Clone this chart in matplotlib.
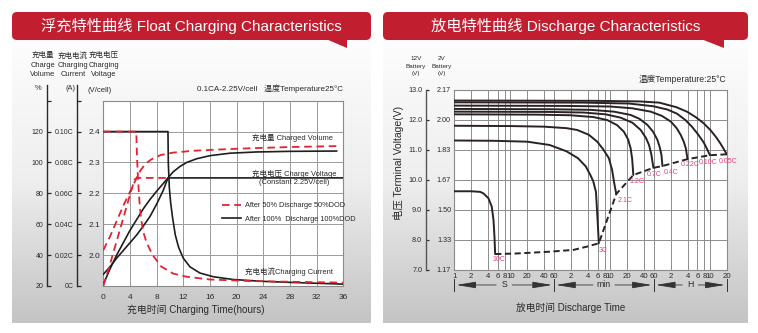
import numpy as np
import matplotlib
matplotlib.use("Agg")
import matplotlib.pyplot as plt
from matplotlib.patches import FancyBboxPatch, Polygon
from matplotlib.colors import LinearSegmentedColormap
from matplotlib.ticker import NullLocator

# ---------------------------------------------------------------- data
# Float charging, time axis (hours) and the three scales of the left chart
charge_hour_ticks = [0, 4, 8, 12, 16, 20, 24, 28, 32, 36]
cell_volt_ticks = [2.0, 2.1, 2.2, 2.3, 2.4]
volume_ticks = [20, 40, 60, 80, 100, 120, 140]
volume_labels = ["20", "40", "60", "80", "100", "120", ""]
current_ticks = [0.0, 0.02, 0.04, 0.06, 0.08, 0.10, 0.12]
current_labels = ["0C", "0.02C", "0.04C", "0.06C", "0.08C", "0.10C", ""]

# after 100% discharge (solid black)
cur100_h = [0, 9.7, 9.75, 9.9, 10.1, 10.4, 10.8, 11.3, 12.0, 13.0, 14.5, 16.5, 19.5, 24, 29, 36]
cur100_c = [0.10, 0.10, 0.080, 0.064, 0.054, 0.044, 0.033, 0.025, 0.018, 0.0124,
            0.0084, 0.006, 0.0042, 0.003, 0.0022, 0.0012]
vol100_h = [0, 1, 2, 3, 4, 5, 6, 7, 8, 9, 9.7, 10.5, 11.5, 12.5, 14, 16, 19, 23, 28, 35]
vol100_pct = [21, 31, 40, 48, 56, 63, 70, 76, 81.4, 86.4, 90, 94, 97.4, 100, 102.4,
              104.4, 106, 106.8, 107.2, 107.4]
volt100_h = [0, 1, 2, 3, 4, 5, 6, 7, 8, 9, 9.7, 36]
volt100_v = [1.938, 1.962, 1.99, 2.015, 2.04, 2.065, 2.094, 2.125, 2.165, 2.21, 2.25, 2.25]

# after 50% discharge (dashed red)
cur50_h = [0, 4.95, 5.05, 5.2, 5.4, 5.65, 6.0, 6.5, 7.4, 8.7, 10.5, 12.5, 16, 22, 30, 36]
cur50_c = [0.10, 0.10, 0.084, 0.070, 0.056, 0.044, 0.035, 0.028, 0.020, 0.0126,
           0.008, 0.006, 0.0042, 0.0032, 0.0026, 0.0022]
vol50_h = [0, 1, 2, 3, 4, 5, 5.6, 6.3, 7.2, 8.6, 10.5, 13.6, 17.5, 22, 28, 35]
vol50_pct = [43.2, 52, 62, 72, 81, 90, 95, 99, 102, 104.8, 106.4, 107.6, 108.4, 109.2, 110, 110.6]
volt50_h = [0, 1, 2, 3, 4, 4.7, 5.1, 9.7]
volt50_v = [1.90, 1.97, 2.045, 2.12, 2.195, 2.245, 2.25, 2.25]

# Discharge: time in seconds, 12 V battery terminal voltage
time_ticks = [1, 2, 4, 6, 8, 10, 20, 40, 60, 120, 240, 360, 480, 600, 1200, 2400,
              3600, 7200, 14400, 21600, 28800, 36000, 72000]
time_labels = ["1", "2", "4", "6", "8", "10", "20", "40", "60", "2", "4", "6", "8",
               "10", "20", "40", "60", "2", "4", "6", "8", "10", "20"]
volt12_ticks = [7, 8, 9, 10, 11, 12, 13]
volt12_labels = ["7.0", "8.0", "9.0", "10.0", "11.0", "12.0", "13.0"]
volt2_labels = ["1.17", "1.33", "1.50", "1.67", "1.83", "2.00", "2.17"]
time_units = ["S", "min", "H"]
unit_bounds = [1, 60, 3600, 72000]

t_005C = [1, 300, 2000, 4500, 9000, 14000, 20000, 28000, 37000, 46000, 55000, 62000, 67000, 72000]
v_005C = [12.64, 12.63, 12.61, 12.57, 12.42, 12.27, 12.09, 11.88, 11.65, 11.43, 11.22, 11.06, 10.95, 10.85]
t_010C = [1, 200, 1300, 3500, 6300, 9350, 13000, 17000, 22000, 28000, 32500, 36000]
v_010C = [12.58, 12.57, 12.54, 12.45, 12.34, 12.20, 12.00, 11.78, 11.52, 11.24, 11.00, 10.82]
t_022C = [1, 100, 610, 1500, 3170, 5000, 7230, 9200, 10900, 12300, 13400, 14360]
v_022C = [12.47, 12.46, 12.44, 12.38, 12.27, 12.13, 11.94, 11.72, 11.49, 11.27, 11.05, 10.69]
t_04C = [1, 50, 268, 700, 1390, 2000, 2765, 3500, 4176, 4600, 4925, 5130]
v_04C = [12.36, 12.35, 12.33, 12.27, 12.16, 12.03, 11.83, 11.60, 11.33, 11.08, 10.83, 10.46]
t_07C = [1, 50, 203, 500, 921, 1500, 2100, 2600, 2958, 3250, 3540]
v_07C = [12.27, 12.26, 12.24, 12.18, 12.07, 11.90, 11.66, 11.40, 11.16, 10.85, 10.40]
t_12C = [1, 30, 117, 300, 532, 800, 1055, 1250, 1390, 1480, 1553]
v_12C = [12.18, 12.17, 12.15, 12.09, 11.99, 11.82, 11.60, 11.35, 11.05, 10.70, 10.16]
t_21C = [1, 10, 40, 100, 155, 250, 353, 450, 569, 650, 710, 771]
v_21C = [11.80, 11.79, 11.77, 11.72, 11.66, 11.50, 11.27, 11.02, 10.72, 10.33, 9.88, 9.53]
t_3C = [1, 5, 20, 50, 100, 160, 220, 268, 300, 335, 355, 377]
v_3C = [11.31, 11.30, 11.27, 11.16, 10.95, 10.72, 10.45, 10.15, 9.95, 9.60, 8.80, 7.89]
t_10C = [1, 2, 2.9, 3.3, 4.05, 4.65, 5.0, 5.2, 5.35]
v_10C = [9.62, 9.62, 9.60, 9.55, 9.39, 9.11, 8.66, 8.11, 7.53]

# final voltage reached at each discharge rate
cutoff_t = [5.35, 13, 51, 134, 234, 377, 771, 1553, 3540, 5130, 14360, 36000, 72000]
cutoff_v = [7.53, 7.55, 7.61, 7.67, 7.78, 7.89, 9.53, 10.16, 10.40, 10.46, 10.69, 10.82, 10.85]

rate_names = ["0.05C", "0.10C", "0.22C", "0.4C", "0.7C", "1.2C", "2.1C", "3C", "10C"]

# ---------------------------------------------------------------- style
W, H = 758, 333
RED = "#e3232f"
BANNER = "#c11f30"
PINK = "#e8407c"
INK = "#2a2a2a"
GRID = "#9a9a9a"
NARROW = ["Liberation Sans Narrow", "Liberation Sans", "Noto Sans CJK SC"]
REGULAR = ["Liberation Sans", "Noto Sans CJK SC"]
plt.rcParams["font.family"] = NARROW
plt.rcParams["text.color"] = INK


def fig_rect(x0, y0, x1, y1):
    """Figure-fraction rectangle from pixel edges (y measured from the top)."""
    return [x0 / W, 1 - y1 / H, (x1 - x0) / W, (y1 - y0) / H]


fig = plt.figure(figsize=(W / 100, H / 100), dpi=100)

# background layer: panels and title banners, in pixel units
bg = fig.add_axes([0, 0, 1, 1], zorder=0)
bg.set_axis_off()
ramp = np.linspace(0, 1, 256)[:, None]
panel_cmap = LinearSegmentedColormap.from_list("panel", ["#fdfdfd", "#eeeeee", "#c4c4c4"])
panels = [(12, 371), (383, 748)]
for x0, x1 in panels:
    bg.imshow(ramp, extent=(x0, x1, 323, 40), cmap=panel_cmap, aspect="auto",
              interpolation="bilinear", zorder=0)
bg.set_xlim(0, W)
bg.set_ylim(H, 0)

titles = ["浮充特性曲线 Float Charging Characteristics", "放电特性曲线 Discharge Characteristics"]
tails = [[(326, 39), (347, 39), (347, 48)], [(701, 39), (724, 39), (724, 48)]]
for (x0, x1), title, tail in zip(panels, titles, tails):
    bg.add_patch(FancyBboxPatch((x0, 12), x1 - x0, 28, boxstyle="round,pad=0,rounding_size=5",
                                fc=BANNER, ec="none", zorder=1))
    bg.add_patch(Polygon(tail, closed=True, fc=BANNER, ec="none", zorder=1))
    bg.text((x0 + x1) / 2, 26.5, title, color="white", fontsize=11,
            ha="center", va="center", zorder=2)

# ---------------------------------------------------------------- left chart
axL = fig.add_axes(fig_rect(103.3, 100.7, 343.3, 286), zorder=2)
axL.set_facecolor("white")
axL.set_xlim(0, 36)
axL.set_ylim(1.9, 2.5)
axL.set_xticks(charge_hour_ticks)
axL.set_xticklabels([str(h) for h in charge_hour_ticks])
axL.set_yticks(cell_volt_ticks)
axL.set_yticklabels([f"{v:.1f}" for v in cell_volt_ticks])
axL.tick_params(length=0, labelsize=6, colors=INK)
axL.tick_params(axis="x", pad=5.5)
axL.tick_params(axis="y", pad=2.2)
axL.grid(True, color=GRID, lw=0.7)
for s in axL.spines.values():
    s.set_color("#8a8a8a")
    s.set_linewidth(0.8)


def pct_to_v(p):
    return 1.9 + (np.asarray(p, dtype=float) - 20) / 200


def v_to_pct(v):
    return 20 + (np.asarray(v, dtype=float) - 1.9) * 200


def amp_to_v(c):
    return 1.9 + np.asarray(c, dtype=float) * 5


def v_to_amp(v):
    return (np.asarray(v, dtype=float) - 1.9) / 5


sec_specs = [
    (46.7, (v_to_pct, pct_to_v), volume_ticks, volume_labels, (20, 150)),
    (77.3, (v_to_amp, amp_to_v), current_ticks, current_labels, (0, 0.13)),
]
for x_px, funcs, ticks, labels, bounds in sec_specs:
    sec = axL.secondary_yaxis((x_px - 103.3) / 240, functions=funcs)
    sec.set_yticks(ticks)
    sec.set_yticklabels(labels)
    sec.tick_params(direction="in", length=3, width=0.9, pad=2.5, labelsize=5, colors=INK)
    sec.spines["right"].set_visible(False)
    sec.spines["left"].set_color(INK)
    sec.spines["left"].set_linewidth(1.0)
    sec.spines["left"].set_bounds(*bounds)

dash_red = dict(color=RED, lw=1.3, dashes=(4.2, 2.6), zorder=4)
solid_blk = dict(color="#1e1e1e", lw=1.2, zorder=3)
axL.plot(cur100_h, amp_to_v(cur100_c), **solid_blk)
axL.plot(vol100_h, pct_to_v(vol100_pct), **solid_blk)
line100, = axL.plot(volt100_h, volt100_v, **solid_blk)
axL.plot(cur50_h, amp_to_v(cur50_c), **dash_red)
axL.plot(vol50_h, pct_to_v(vol50_pct), **dash_red)
line50, = axL.plot(volt50_h, volt50_v, **dash_red)

axL.legend([line50, line100], ["After 50% Discharge 50%DOD", "After 100%  Discharge 100%DOD"],
           loc="center left", bbox_to_anchor=(0.493, 0.398), frameon=False, fontsize=5.3,
           handlelength=2.7, handletextpad=0.45, labelspacing=0.85, borderpad=0, borderaxespad=0)

curve_notes = [
    (28.4, 2.381, "充电量 Charged Volume"),
    (28.6, 2.264, "充电电压 Charge Voltage"),
    (28.6, 2.236, "(Constant 2.25V/cell)"),
    (27.9, 1.946, "充电电流Charging Current"),
]
for h, v, txt in curve_notes:
    axL.text(h, v, txt, fontsize=5.4, ha="center", va="center", color=INK, zorder=5)

# header texts around the left chart
head_cols = [(43, ["充电量", "Charge", "Volume"]), (73, ["充电电流", "Charging", "Current"]),
             (104, ["充电电压", "Charging", "Voltage"])]
for x, lines in head_cols:
    for y, txt in zip([55.5, 65.5, 75], lines):
        bg.text(x, y, txt, fontsize=5.4, ha="center", va="center", zorder=3)
bg.text(38, 89, "%", fontsize=5.4, ha="center", va="center", zorder=3)
bg.text(70, 89, "(A)", fontsize=5.4, ha="center", va="center", zorder=3)
bg.text(100, 91, "(V/cell)", fontsize=5.6, ha="center", va="center", zorder=3)
bg.text(343, 89, "0.1CA-2.25V/cell   温度Temperature25°C", fontsize=5.8,
        ha="right", va="center", zorder=3)
bg.text(195.6, 310, "充电时间 Charging Time(hours)", fontsize=7.1, ha="center",
        va="center", zorder=3)

# ---------------------------------------------------------------- right chart
axR = fig.add_axes(fig_rect(454.3, 89.7, 726.8, 270), zorder=2)
axR.set_facecolor("white")
axR.set_xscale("log")
axR.set_xlim(1, 72000)
axR.set_ylim(7, 13)
axR.set_xticks(time_ticks)
axR.set_xticklabels(time_labels)
axR.xaxis.set_minor_locator(NullLocator())
axR.set_yticks(volt12_ticks)
axR.set_yticklabels([])
axR.tick_params(length=0, labelsize=5.6, colors=INK)
axR.tick_params(axis="x", pad=2.5)
axR.grid(True, color="#8c8c8c", lw=0.7)
for s in axR.spines.values():
    s.set_color("#8a8a8a")
    s.set_linewidth(0.8)

sec2 = axR.secondary_yaxis(0, functions=(lambda v: v / 6, lambda v: v * 6))
sec2.set_yticks([v / 6 for v in volt12_ticks])
sec2.set_yticklabels(volt2_labels)
sec2.tick_params(length=0, pad=2.3, labelsize=5.2, colors=INK)
for s in sec2.spines.values():
    s.set_visible(False)

sec12 = axR.secondary_yaxis((425.7 - 454.3) / 272.5, functions=(lambda v: v, lambda v: v))
sec12.set_yticks(volt12_ticks)
sec12.set_yticklabels(volt12_labels)
sec12.tick_params(direction="in", length=2.5, width=0.9, pad=2.5, labelsize=5.2, colors=INK)
sec12.spines["right"].set_visible(False)
sec12.spines["left"].set_color("#555555")
sec12.spines["left"].set_linewidth(1.0)

curves = [(t_005C, v_005C), (t_010C, v_010C), (t_022C, v_022C), (t_04C, v_04C),
          (t_07C, v_07C), (t_12C, v_12C), (t_21C, v_21C), (t_3C, v_3C), (t_10C, v_10C)]
label_offsets = [(1.2, -7.4), (-2, -7), (2.3, -5.7), (8.3, -6.3), (0.3, -6.7),
                 (3.8, -6), (8.3, -6.7), (4.7, -7.7), (4, -5.5)]
for (t, v), name, off in zip(curves, rate_names, label_offsets):
    axR.plot(t, v, color="#2b2323", lw=1.4, solid_capstyle="round", zorder=3)
    axR.annotate(name, (t[-1], v[-1]), xytext=off, textcoords="offset pixels",
                 fontsize=5, color=PINK, ha="center", va="center", annotation_clip=False,
                 zorder=5)
axR.plot(cutoff_t, cutoff_v, color="#2b2323", lw=1.4, dashes=(3.2, 1.8), zorder=3)

# time-unit bands below the axis
band_y = -0.083
for a, b, unit in zip(unit_bounds[:-1], unit_bounds[1:], time_units):
    mid = np.sqrt(a * b)
    gap = 10 ** ((11 if unit == "min" else 8) / 55.9)
    axR.text(mid, band_y, unit, transform=axR.get_xaxis_transform(), fontsize=6.3,
             ha="center", va="center", color=INK)
    for end, start in [(a, mid / gap), (b, mid * gap)]:
        axR.annotate("", xy=(end, band_y), xycoords=axR.get_xaxis_transform(),
                     xytext=(start, band_y), textcoords=axR.get_xaxis_transform(),
                     arrowprops=dict(arrowstyle="-|>,head_length=1.2,head_width=0.2",
                                     lw=0.6, color="#333333", shrinkA=0, shrinkB=1.5),
                     annotation_clip=False)
for b in unit_bounds:
    axR.plot([b, b], [band_y - 0.032, band_y + 0.032], transform=axR.get_xaxis_transform(),
             color="#333333", lw=0.7, clip_on=False)

for x, lines in [(416, ["12V", "Battery", "(V)"]), (442, ["2V", "Battery", "(V)"])]:
    for y, txt in zip([59, 66.3, 73.5], lines):
        bg.text(x, y, txt, fontsize=4.6, ha="center", va="center", zorder=3)
bg.text(726.5, 79, "温度Temperature:25°C", fontsize=6.2, ha="right", va="center", zorder=3)
bg.text(398.5, 163, "电压 Terminal Voltage(V)", rotation=90, fontsize=7.5,
        family=REGULAR, ha="center", va="center", zorder=3)
bg.text(571, 308, "放电时间 Discharge Time", fontsize=7.0, ha="center", va="center", zorder=3)

fig.savefig("out.png", dpi=100)
